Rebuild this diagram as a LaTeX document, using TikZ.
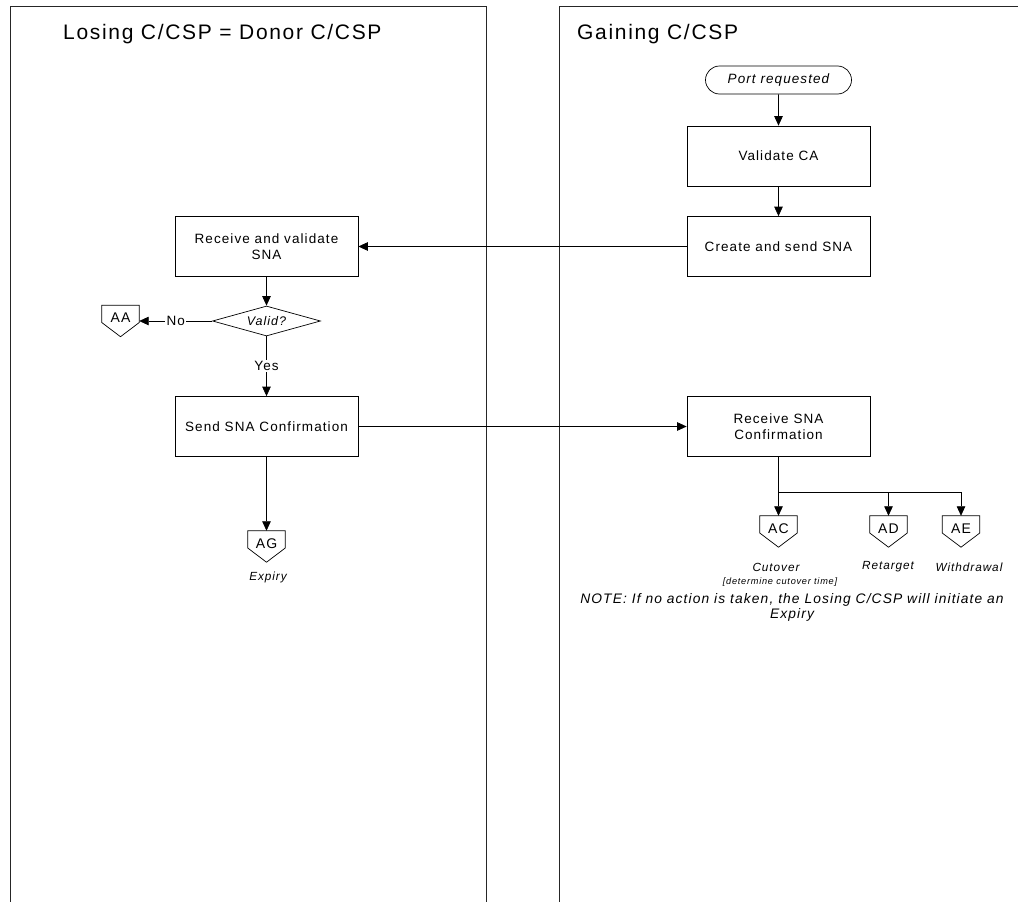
\documentclass[tikz,border=0pt]{standalone}
\usepackage{fontspec}
\setmainfont[LetterSpace=8]{Liberation Sans}
\usetikzlibrary{arrows.meta,shapes.geometric,shapes.misc,calc}
\tikzset{
  lane/.style={draw=black!85, line width=0.8pt},
  procbox/.style={draw, line width=0.7pt, rectangle, minimum width=183pt, minimum height=60pt, inner sep=0pt, align=center, font=\fontsize{13.5}{16.5}\selectfont},
  terminal/.style={draw, line width=0.7pt, rounded rectangle, minimum width=146pt, minimum height=28pt, inner sep=0pt, font=\fontsize{13.5}{15}\selectfont\itshape},
  decision/.style={draw, line width=0.7pt, diamond, aspect=3.6, minimum width=108pt, minimum height=30pt, inner sep=0pt, font=\fontsize{12.5}{14}\selectfont\itshape},
  offpage/.style={rectangle, minimum width=37pt, inner sep=0pt, text height=17pt, text depth=14pt, font=\fontsize{14}{15}\selectfont},
  flow/.style={line width=0.7pt, -{Triangle[length=9.5pt,width=8.5pt]}},
  plain/.style={line width=0.7pt},
  edgelabel/.style={fill=white, inner sep=1.5pt, font=\fontsize{13.5}{15}\selectfont},
  note/.style={font=\fontsize{11.8}{15}\selectfont\itshape, align=center, inner sep=0pt},
  title/.style={font=\fontsize{21}{23}\selectfont, inner sep=0pt}
}
\begin{document}
\begin{tikzpicture}[x=1pt,y=-1pt]
\useasboundingbox (0,0) rectangle (1018,902);
% lanes
\draw[lane] (10,902) -- (10,6) -- (486,6) -- (486,902);
\draw[lane] (559,902) -- (559,6) -- (1018,6);
\node[title, anchor=base west] (t1) at (63,39) {Losing C/CSP = Donor C/CSP};
\node[title, anchor=base west] (t2) at (577,39) {Gaining C/CSP};
% right lane
\node[terminal] (port) at (778.5,80) {Port requested};
\node[procbox] (val) at (778.5,156) {Validate CA};
\node[procbox] (create) at (778.5,246.5) {Create and send SNA};
\node[procbox] (rsc) at (778.5,426.5) {Receive SNA\\Confirmation};
% left lane
\node[procbox] (recv) at (266.5,246.5) {Receive and validate\\SNA};
\node[decision] (valid) at (266.5,321) {Valid?};
\node[procbox] (send) at (266.5,426.5) {Send SNA Confirmation};
% off-page connectors
\node[offpage] (aa) at (120.5,321) {AA};
\node[offpage] (ag) at (266.5,546.5) {AG};
\node[offpage] (ac) at (778.5,531.5) {AC};
\node[offpage] (ad) at (888.5,531.5) {AD};
\node[offpage] (ae) at (961,531.5) {AE};
\foreach \n in {aa,ag,ac,ad,ae}
  \draw[plain] (\n.north west) -- (\n.north east) -- ($(\n.north east)!0.55!(\n.south east)$) -- (\n.south) -- ($(\n.north west)!0.55!(\n.south west)$) -- cycle;
% connectors
\draw[flow] (port) -- (val);
\draw[flow] (val) -- (create);
\draw[flow] (create) -- (recv);
\draw[flow] (recv) -- (valid);
\draw[flow] (valid) -- node[edgelabel]{No} (aa);
\draw[flow] (valid) -- node[edgelabel]{Yes} (send);
\draw[flow] (send) -- (rsc);
\draw[flow] (send) -- (ag);
\coordinate (j) at (778.5,492);
\draw[plain] (rsc) -- (j);
\draw[flow] (j) -- (ac);
\draw[flow] (j) -| (ad);
\draw[flow] (j) -| (ae);
% labels
\node[note] (lag) at (268,577) {Expiry};
\node[note] (lac) at (776,567) {Cutover};
\node[note, font=\fontsize{9.2}{10}\selectfont\itshape] (lac2) at (780,582) {[determine cutover time]};
\node[note] (lad) at (888,567) {Retarget};
\node[note] (lae) at (969,567) {Withdrawal};
\node[note, font=\fontsize{13.8}{15}\selectfont\itshape] (nt) at (792,607.5) {NOTE: If no action is taken, the Losing C/CSP will initiate an\\Expiry};
\end{tikzpicture}
\end{document}
